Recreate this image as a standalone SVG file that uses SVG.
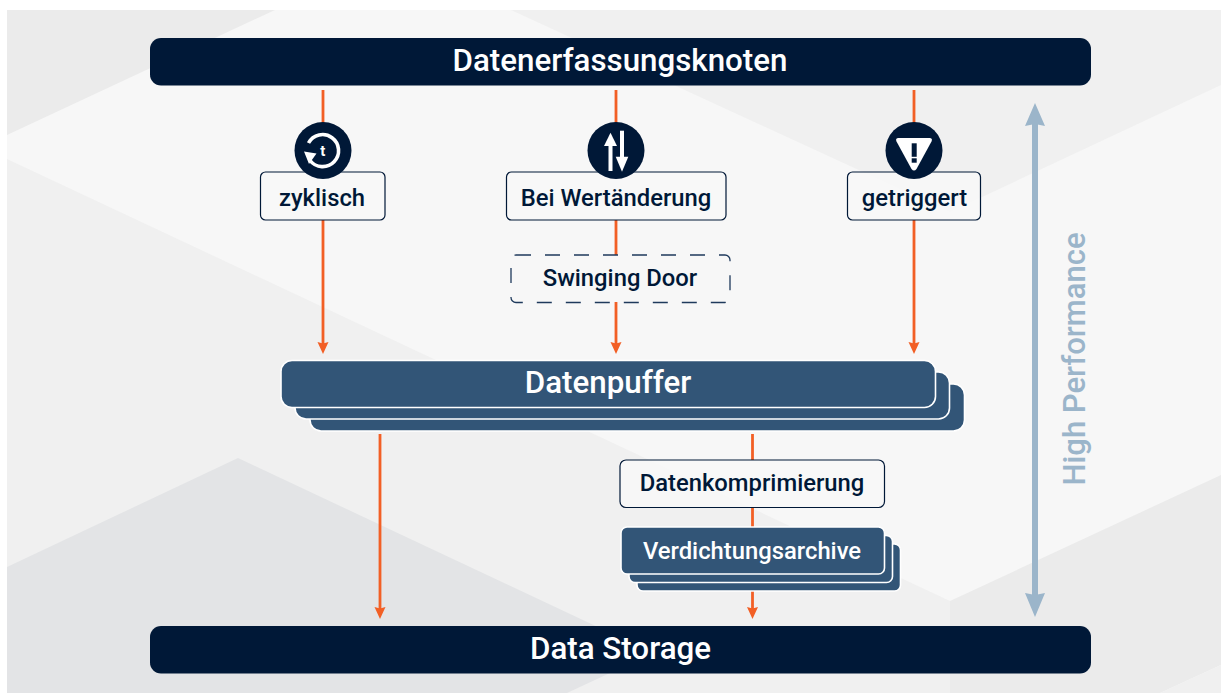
<svg xmlns="http://www.w3.org/2000/svg" width="1221" height="693" viewBox="0 0 1221 693">
<style>
text{font-family:Roboto,"Liberation Sans",sans-serif;text-anchor:middle}
.bar{fill:#001837}
.barT{fill:#fff;font-size:31.3px;font-weight:500}
.box{fill:#f8f8f8;fill-opacity:.85;stroke:#001837;stroke-width:1.2}
.dash{fill:none;stroke:#1f3a5c;stroke-width:1.3;stroke-dasharray:15 14}
.lab{fill:#001837;font-size:23.8px;font-weight:500}
.buf{fill:#325577;stroke:#fff;stroke-width:1.6}
.conn{stroke:#f25f25;stroke-width:2.8;fill:none}
.ic{fill:#001837}
.w{fill:#fff}
</style>
<defs>
<marker id="ah" markerUnits="userSpaceOnUse" markerWidth="14" markerHeight="14" refX="6" refY="6" orient="auto"><path d="M0,0.500L12,6L0,11.500L1.500,6Z" fill="#f25f25"/></marker>
</defs>
<g id="background">
<rect x="7" y="10" width="1214" height="683" fill="#f7f7f7"/>
<polygon points="7,10 275,10 7,135" fill="#ebebeb"/>
<polygon points="511,10 1221,10 1221,85 950,212" fill="#f0f0f0"/>
<polygon points="7,159 950,601 950,693 7,693" fill="#f0f0f0"/>
<polygon points="950,601 1221,475 1221,665 1160,693 950,693" fill="#ebebeb"/>
<polygon points="1221,665 1221,693 1160,693" fill="#f0f0f0"/>
<polygon points="7,567 238,458 653,653 567,693 7,693" fill="#e3e4e6"/>
</g>
<g id="connectors">
<line class="conn" x1="323" y1="90" x2="323" y2="125"/>
<line class="conn" x1="323" y1="220" x2="323" y2="348" marker-end="url(#ah)"/>
<line class="conn" x1="616" y1="90" x2="616" y2="125"/>
<line class="conn" x1="616" y1="220" x2="616" y2="255"/>
<line class="conn" x1="616" y1="302" x2="616" y2="348" marker-end="url(#ah)"/>
<line class="conn" x1="914" y1="90" x2="914" y2="125"/>
<line class="conn" x1="914" y1="220" x2="914" y2="348" marker-end="url(#ah)"/>
<line class="conn" x1="380" y1="434" x2="380" y2="613" marker-end="url(#ah)"/>
<line class="conn" x1="752.500" y1="434" x2="752.500" y2="460"/>
<line class="conn" x1="752.500" y1="507" x2="752.500" y2="527"/>
<line class="conn" x1="752.500" y1="591" x2="752.500" y2="613" marker-end="url(#ah)"/>
</g>
<g id="high-performance">
<line x1="1035" y1="118" x2="1035" y2="604" stroke="#9bb5ca" stroke-width="6"/>
<polygon points="1035,103 1045,126 1035,124 1025,126" fill="#9bb5ca"/>
<polygon points="1035,617 1025,593 1035,595 1045,593" fill="#9bb5ca"/>
<text transform="translate(1085,359) rotate(-90)" font-size="31" fill="#9bb5ca" font-weight="500">High Performance</text>
</g>
<g id="node-datenerfassungsknoten">
<rect class="bar" x="150" y="38" width="941" height="47.500" rx="11"/>
<text class="barT" x="620" y="71">Datenerfassungsknoten</text>
</g>
<g id="node-zyklisch">
<rect class="box" x="260.500" y="172" width="124.500" height="48" rx="5"/>
<text class="lab" x="322" y="206">zyklisch</text>
<circle class="ic" cx="323" cy="150.500" r="28.500"/>
<path d="M308.500,143A16,16 0 1 1 310,160.500" fill="none" stroke="#fff" stroke-width="3.600"/>
<polygon class="w" points="304,151.500 316.500,153.500 309,164"/>
<text x="322.700" y="156" font-size="15" font-weight="700" fill="#fff">t</text>
</g>
<g id="node-bei-wertaenderung">
<rect class="box" x="506.500" y="172" width="219.500" height="48" rx="5"/>
<text class="lab" x="616" y="206">Bei Wertänderung</text>
<circle class="ic" cx="616" cy="150.500" r="28.500"/>
<rect class="w" x="608.500" y="144" width="4" height="27"/>
<polygon class="w" points="610.500,132.700 604,146 617,146"/>
<rect class="w" x="620" y="130.700" width="4" height="27"/>
<polygon class="w" points="622,171.700 615.700,156.700 628.300,156.700"/>
</g>
<g id="node-getriggert">
<rect class="box" x="847.500" y="172" width="133" height="48" rx="5"/>
<text class="lab" x="914.500" y="206">getriggert</text>
<circle class="ic" cx="914" cy="150.500" r="28.500"/>
<path d="M898.500,138H929.500Q933,138 931.500,141.500L916.500,169Q914,172 911.500,169L896.500,141.500Q895,138 898.500,138Z" class="w"/>
<rect class="ic" x="911.700" y="143.300" width="5" height="13.500"/>
<rect class="ic" x="911.700" y="158.300" width="5" height="4.400"/>
</g>
<g id="node-swinging-door">
<rect class="dash" x="511" y="255" width="219" height="47.500" rx="5"/>
<text class="lab" x="620" y="286">Swinging Door</text>
</g>
<g id="node-datenpuffer">
<rect class="buf" x="310" y="384" width="654.500" height="47" rx="11"/>
<rect class="buf" x="295" y="372" width="654.500" height="47" rx="11"/>
<rect class="buf" x="281" y="360.500" width="654.500" height="47" rx="11"/>
<text class="barT" x="608" y="393">Datenpuffer</text>
</g>
<g id="node-datenkomprimierung">
<rect class="box" x="620" y="460" width="264.500" height="47.500" rx="6"/>
<text class="lab" x="752" y="491">Datenkomprimierung</text>
</g>
<g id="node-verdichtungsarchive">
<rect class="buf" x="637" y="544" width="263.500" height="47" rx="6"/>
<rect class="buf" x="629" y="535.500" width="263.500" height="47" rx="6"/>
<rect class="buf" x="621" y="527" width="263.500" height="47" rx="6"/>
<text x="752" y="559" font-size="23.800" font-weight="500" fill="#fff">Verdichtungsarchive</text>
</g>
<g id="node-data-storage">
<rect class="bar" x="150" y="626" width="941" height="47.500" rx="11"/>
<text class="barT" x="620.500" y="659">Data Storage</text>
</g>
</svg>
